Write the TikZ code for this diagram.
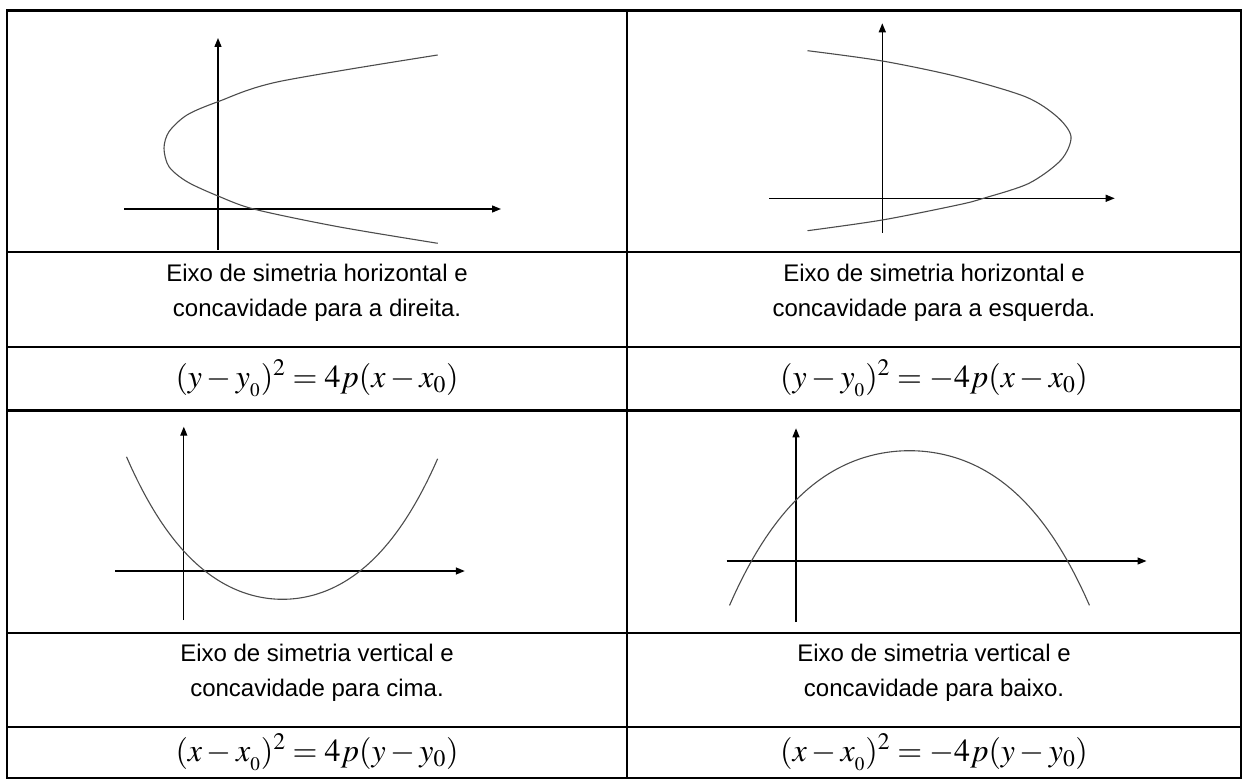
\documentclass[tikz,border=0pt]{standalone}
\usepackage[no-math]{fontspec}
\usepackage{mathptmx}
\setmainfont{Liberation Sans}
\usetikzlibrary{arrows.meta}

\begin{document}
\begin{tikzpicture}[
    x=1pt, y=-1pt,
    frame/.style={line width=2.2pt},
    axis/.style={line width=1.3pt, -{Triangle[length=9pt, width=7pt]}},
    curve/.style={line width=1.1pt, black!70},
    caption/.style={align=center, inner sep=0pt, font=\fontsize{24}{35}\selectfont},
    formula/.style={inner sep=0pt, font=\fontsize{32}{36}\selectfont},
  ]
    \useasboundingbox (0,0) rectangle (1247,783);

    % table
    \draw[frame] (7,10.5) rectangle (1241,778);
    \draw[frame] (627,10.5) -- (627,778);
    \foreach \y in {252,347,410.5,633,727}
      \draw[frame] (7,\y) -- (1241,\y);

    % concavidade para a direita
    \draw[axis] (124,209) -- (501,209);
    \draw[axis] (218,250) -- (218,38);
    \draw[curve] plot[smooth] coordinates {(437.7,55) (278.5,81.7) (218,101.7)
      (187,115) (169,131.7) (164,148.3) (169,166.7) (187,181.7) (218,196)
      (254.7,209.3) (338,226.7) (437.7,243.3)};

    % concavidade para a esquerda
    \draw[axis] (769,198.3) -- (1114.7,198.3);
    \draw[axis] (882.3,233) -- (882.3,23.3);
    \draw[curve] plot[smooth] coordinates {(807.5,50.7) (882.3,61) (957.7,76.7)
      (1025.3,96.7) (1057,116.7) (1071,136.7) (1061,160) (1029,183.3)
      (983.5,198.3) (957.7,205) (882.3,220) (807.5,230.7)};

    % concavidade para cima
    \draw[axis] (115.4,571) -- (464.8,571);
    \draw[axis] (183.8,620) -- (183.8,426.7);
    \draw[curve] plot[domain=-1.56:1.552, samples=70, smooth]
      ({282.5+100*\x}, {599.3-43.37*\x*\x-6.243*\x*\x*\x*\x});

    % concavidade para baixo
    \draw[axis] (726.5,561) -- (1146.5,561);
    \draw[axis] (796,622) -- (796,428.3);
    \draw[curve] plot[domain=-1.8:1.8, samples=70, smooth]
      ({909.5+100*\x}, {450.7+32.17*\x*\x+4.81*\x*\x*\x*\x});

    % legendas
    \node[caption] (capDir) at (317,292.5) {Eixo de simetria horizontal e\\concavidade para a direita.};
    \node[caption] (capEsq) at (934,292.5) {Eixo de simetria horizontal e\\concavidade para a esquerda.};
    \node[caption] (capCima) at (317,672.5) {Eixo de simetria vertical e\\concavidade para cima.};
    \node[caption] (capBaixo) at (934,672.5) {Eixo de simetria vertical e\\concavidade para baixo.};

    % equacoes
    \node[formula] (eqDir) at (317,378.5) {$(y-y_{_0})^2=4p(x-x_0)$};
    \node[formula] (eqEsq) at (934,378.5) {$(y-y_{_0})^2=-4p(x-x_0)$};
    \node[formula] (eqCima) at (317,752.5) {$(x-x_{_0})^2=4p(y-y_0)$};
    \node[formula] (eqBaixo) at (934,752.5) {$(x-x_{_0})^2=-4p(y-y_0)$};
  \end{tikzpicture}
\end{document}
